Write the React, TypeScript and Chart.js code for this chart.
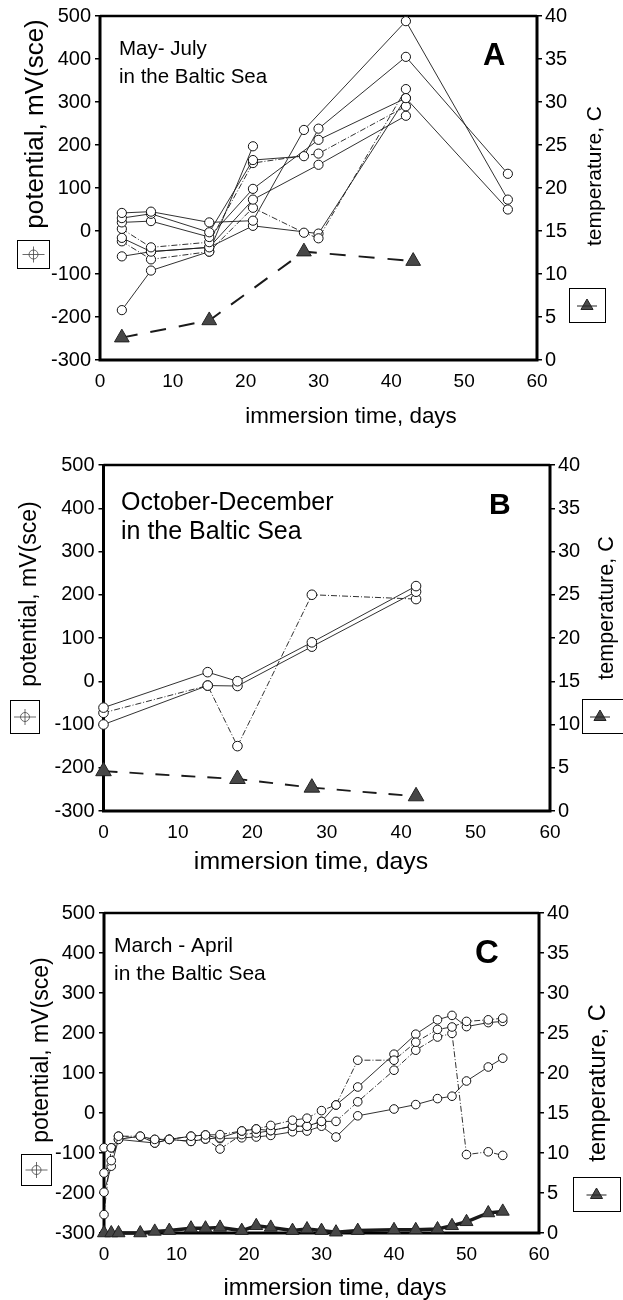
import React, { useEffect, useRef } from "react";
import { Chart, registerables } from "chart.js";
Chart.register(...registerables);

type P = [number, number];

// ---------- Panel A: May-July ----------
const A_S1: P[] = [[3, 42], [7, 45], [15, 20], [21, 24], [28, 235], [42, 488], [56, 73]];
const A_S2: P[] = [[3, 30], [7, 40], [15, -3], [21, 165], [28, 174], [30, 238], [42, 405], [56, 133]];
const A_S3: P[] = [[3, 20], [7, 23], [15, -14], [21, 98], [30, 212], [42, 309], [56, 50]];
const A_S4: P[] = [[3, 5], [7, -38], [15, -26], [21, 158], [30, 180], [42, 290]];
const A_S5: P[] = [[3, -16], [7, -48], [15, -38], [21, 73], [30, 154], [42, 268]];
const A_S6: P[] = [[3, -24], [7, -66], [15, -48], [21, 54], [28, -4], [30, -17], [42, 330]];
const A_S7: P[] = [[3, -59], [7, -48], [15, -38], [21, 12], [30, -6], [42, 309]];
const A_S8: P[] = [[3, -184], [7, -92], [15, -48], [21, 197]];
const A_TEMP: P[] = [[3, 2.6], [15, 4.6], [28, 12.6], [43, 11.5]];

// ---------- Panel B: October-December ----------
const B_S1: P[] = [[0, -61], [14, 21], [18, 0], [28, 90], [42, 220]];
const B_S2: P[] = [[0, -100], [14, -10], [18, -11], [28, 80], [42, 207]];
const B_S3: P[] = [[0, -73], [14, -10], [18, -150], [28, 200], [42, 190]];
const B_TEMP: P[] = [[0, 4.6], [18, 3.7], [28, 2.7], [42, 1.7]];

// ---------- Panel C: March-April ----------
const C_S1: P[] = [[0, -150], [1, -119], [2, -58], [5, -58], [7, -66], [9, -66], [12, -58], [14, -55], [16, -54], [19, -45], [21, -40], [23, -31], [26, -18], [28, -13], [30, 6], [32, 20], [35, 132], [40, 132], [43, 177], [46, 209], [48, 215], [50, 229], [53, 233], [55, 237]];
const C_S2: P[] = [[0, -198], [1, -133], [2, -66], [5, -58], [7, -75], [9, -66], [12, -71], [14, -65], [16, -62], [19, -45], [21, -40], [23, -44], [26, -33], [28, -33], [30, -21], [32, 20], [35, 65], [40, 147], [43, 197], [46, 233], [48, 244], [50, 216], [53, 226], [55, 229]];
const C_S3: P[] = [[0, -254], [1, -87], [2, -58], [7, -66], [9, -66], [12, -71], [14, -65], [16, -90], [19, -54], [21, -50], [23, -44], [26, -33], [28, -33], [30, -21], [32, -21], [35, 28], [40, 107], [43, 157], [46, 190], [48, 199], [50, -104], [53, -97], [55, -106]];
const C_S4: P[] = [[0, -87], [1, -87], [2, -66], [7, -75], [9, -66], [12, -58], [14, -55], [16, -64], [19, -62], [21, -60], [23, -56], [26, -47], [28, -45], [30, -33], [32, -60], [35, -7], [40, 10], [43, 21], [46, 36], [48, 42], [50, 80], [53, 115], [55, 137]];
const C_TEMP: P[] = [[0, 0], [1, 0], [2, 0], [5, 0], [7, 0.2], [9, 0.3], [12, 0.6], [14, 0.6], [16, 0.7], [19, 0.3], [21, 0.9], [23, 0.7], [26, 0.3], [28, 0.5], [30, 0.3], [32, 0.1], [35, 0.3], [40, 0.4], [43, 0.4], [46, 0.5], [48, 0.9], [50, 1.4], [53, 2.5], [55, 2.7]];

// ---------- shared axis settings ----------
const X_MIN = 0, X_MAX = 60, X_STEP = 10;
const Y_MIN = -300, Y_MAX = 500, Y_STEP = 100;
const T_MIN = 0, T_MAX = 40, T_STEP = 5;
const X_TITLE = "immersion time, days";
const Y_TITLE = "potential, mV(sce)";
const T_TITLE = "temperature, C";

const FONT = '"Liberation Sans", Arial, Helvetica, sans-serif';
const W = 623;

const PANELS = [
  {
    top: 0, height: 440,
    area: { left: 100, right: 537, top: 15, bottom: 360 },
    series: [A_S1, A_S2, A_S3, A_S4, A_S5, A_S6, A_S7, A_S8],
    dashes: [[], [], [], [6, 2, 1, 2], [], [6, 2, 1, 2], [], []],
    temp: A_TEMP, tempDash: [16, 13], tempWidth: 2, triR: 8.5, circR: 4.6,
    lines: [{ t: "May- July", x: 119, y: 55, s: 20.5 }, { t: "in the Baltic Sea", x: 119, y: 83, s: 20.5 }],
    letter: { t: "A", x: 483, y: 65, s: 31 },
    pot: { cx: 36, cy: 124, s: 26 }, tmp: { cx: 595, cy: 176, s: 21 }, xt: { cx: 351, cy: 417, s: 22.4 },
    lbox: { x: 17, y: 240, w: 32, h: 28 }, rbox: { x: 569, y: 288, w: 36, h: 34 },
  },
  {
    top: 440, height: 440,
    area: { left: 103.5, right: 550, top: 465, bottom: 811 },
    series: [B_S1, B_S2, B_S3],
    dashes: [[], [], [6, 2, 1, 2]],
    temp: B_TEMP, tempDash: [14, 12], tempWidth: 1.8, triR: 9, circR: 4.8,
    lines: [{ t: "October-December", x: 121, y: 510, s: 25 }, { t: "in the Baltic Sea", x: 121, y: 539, s: 25 }],
    letter: { t: "B", x: 489, y: 514, s: 30 },
    pot: { cx: 30, cy: 594, s: 23 }, tmp: { cx: 607, cy: 608, s: 21.5 }, xt: { cx: 311, cy: 862, s: 24.8 },
    lbox: { x: 10, y: 700, w: 29, h: 33 }, rbox: { x: 582, y: 699, w: 45, h: 34 },
  },
  {
    top: 880, height: 420,
    area: { left: 104, right: 539, top: 913, bottom: 1233 },
    series: [C_S1, C_S2, C_S3, C_S4],
    dashes: [[6, 2, 1, 2], [], [6, 2, 1, 2], []],
    temp: C_TEMP, tempDash: [], tempWidth: 3.5, triR: 7.5, circR: 4.3,
    lines: [{ t: "March - April", x: 114, y: 952, s: 21 }, { t: "in the Baltic Sea", x: 114, y: 980, s: 21 }],
    letter: { t: "C", x: 475, y: 963, s: 33 },
    pot: { cx: 42, cy: 1050, s: 23 }, tmp: { cx: 598, cy: 1083, s: 23.6 }, xt: { cx: 335, cy: 1288, s: 23.6 },
    lbox: { x: 21, y: 1154, w: 30, h: 31 }, rbox: { x: 573, y: 1177, w: 47, h: 34 },
  },
];

function decorPlugin(p: any, idx: number) {
  const off = p.top;
  return {
    id: "decor",
    beforeDatasetsDraw(chart: any) {
      const { ctx, chartArea: a } = chart;
      ctx.save();
      ctx.strokeStyle = "#000";
      ctx.lineWidth = 3;
      ctx.beginPath();
      ctx.moveTo(a.left, a.top);
      ctx.lineTo(a.left, a.bottom);
      ctx.lineTo(a.right, a.bottom);
      ctx.lineTo(a.right, a.top);
      ctx.stroke();
      ctx.lineWidth = 2.5;
      ctx.beginPath();
      ctx.moveTo(a.left, a.top);
      ctx.lineTo(a.right, a.top);
      ctx.stroke();
      ctx.restore();
    },
    afterDraw(chart: any) {
      const ctx = chart.ctx as CanvasRenderingContext2D;
      ctx.save();
      ctx.fillStyle = "#000";
      ctx.strokeStyle = "#000";
      ctx.textAlign = "left";
      ctx.textBaseline = "alphabetic";
      for (const l of p.lines) {
        ctx.font = `${l.s}px ${FONT}`;
        ctx.fillText(l.t, l.x, l.y - off);
      }
      ctx.font = `bold ${p.letter.s}px ${FONT}`;
      ctx.fillText(p.letter.t, p.letter.x, p.letter.y - off);
      ctx.textAlign = "center";
      ctx.textBaseline = "middle";
      ctx.font = `${p.xt.s}px ${FONT}`;
      ctx.fillText(X_TITLE, p.xt.cx, p.xt.cy - off);
      const rot = (t: string, cx: number, cy: number, s: number) => {
        ctx.save();
        ctx.translate(cx, cy - off);
        ctx.rotate(-Math.PI / 2);
        ctx.font = `${s}px ${FONT}`;
        ctx.textAlign = "center";
        ctx.textBaseline = "middle";
        ctx.fillText(t, 0, 0);
        ctx.restore();
      };
      rot(Y_TITLE, p.pot.cx, p.pot.cy, p.pot.s);
      rot(T_TITLE, p.tmp.cx, p.tmp.cy, p.tmp.s);
      // left legend box
      const lb = p.lbox;
      ctx.lineWidth = 1;
      ctx.strokeRect(lb.x + 0.5, lb.y - off + 0.5, lb.w, lb.h);
      const lcx = lb.x + lb.w / 2 + 0.5, lcy = lb.y + lb.h / 2 - off + 0.5;
      ctx.strokeStyle = "#444";
      ctx.lineWidth = 0.8;
      ctx.beginPath();
      ctx.moveTo(lcx - 11, lcy);
      ctx.lineTo(lcx + 11, lcy);
      ctx.moveTo(lcx, lcy - 8);
      ctx.lineTo(lcx, lcy + 8);
      ctx.stroke();
      ctx.beginPath();
      ctx.arc(lcx, lcy, 4.5, 0, Math.PI * 2);
      ctx.stroke();
      // right legend box
      const rb = p.rbox;
      ctx.strokeStyle = "#000";
      ctx.lineWidth = 1;
      ctx.strokeRect(rb.x + 0.5, rb.y - off + 0.5, rb.w, rb.h);
      const rcx = rb.x + (idx === 1 ? 18 : rb.w / 2), rcy = rb.y + rb.h / 2 - off + 1;
      const r = 7;
      ctx.fillStyle = "#4a4a4a";
      ctx.strokeStyle = "#222";
      ctx.beginPath();
      ctx.moveTo(rcx, rcy - r);
      ctx.lineTo(rcx + r * 0.866, rcy + r / 2);
      ctx.lineTo(rcx - r * 0.866, rcy + r / 2);
      ctx.closePath();
      ctx.fill();
      ctx.stroke();
      ctx.beginPath();
      ctx.moveTo(rcx - 10, rcy);
      ctx.lineTo(rcx + 10, rcy);
      ctx.stroke();
      ctx.restore();
    },
  };
}

function buildConfig(p: any, idx: number): any {
  const datasets: any[] = p.series.map((s: P[], i: number) => ({
    type: "line",
    data: s.map(([x, y]) => ({ x, y })),
    yAxisID: "y",
    borderColor: "#1a1a1a",
    borderWidth: 0.9,
    borderDash: p.dashes[i] || [],
    pointStyle: "circle",
    pointRadius: p.circR,
    pointBackgroundColor: "#fff",
    pointBorderColor: "#111",
    pointBorderWidth: 1,
    tension: 0,
    clip: false,
    order: 1,
  }));
  datasets.push({
    type: "line",
    data: p.temp.map(([x, y]: P) => ({ x, y })),
    yAxisID: "y1",
    borderColor: "#1a1a1a",
    borderWidth: p.tempWidth,
    borderDash: p.tempDash,
    pointStyle: "triangle",
    pointRadius: p.triR,
    pointBackgroundColor: "#474747",
    pointBorderColor: "#222",
    pointBorderWidth: 1,
    tension: 0,
    clip: false,
    order: 0,
  });
  const xFont = { family: FONT, size: 19 };
  const yFont = { family: FONT, size: 20 };
  const a = p.area;
  return {
    type: "line",
    data: { datasets },
    options: {
      responsive: false,
      animation: false,
      devicePixelRatio: 1,
      layout: { padding: { top: a.top - p.top, left: 0, right: 0, bottom: 0 } },
      plugins: { legend: { display: false }, tooltip: { enabled: false } },
      scales: {
        x: {
          type: "linear", min: X_MIN, max: X_MAX,
          ticks: { stepSize: X_STEP, color: "#000", font: xFont, padding: 10.6, maxRotation: 0 },
          grid: { display: false, drawTicks: false },
          border: { display: false },
          afterFit: (s: any) => { s.height = p.top + p.height - a.bottom; },
        },
        y: {
          type: "linear", position: "left", min: Y_MIN, max: Y_MAX,
          ticks: { stepSize: Y_STEP, color: "#000", font: yFont, padding: 4 },
          grid: { display: true, drawOnChartArea: false, drawTicks: true, tickLength: 5, color: "#000", lineWidth: 1.5 },
          border: { display: false },
          afterFit: (s: any) => { s.width = a.left; },
        },
        y1: {
          type: "linear", position: "right", min: T_MIN, max: T_MAX,
          ticks: { stepSize: T_STEP, color: "#000", font: yFont, padding: 3 },
          grid: { display: true, drawOnChartArea: false, drawTicks: true, tickLength: 5, color: "#000", lineWidth: 1.5 },
          border: { display: false },
          afterFit: (s: any) => { s.width = W - a.right; },
        },
      },
    },
    plugins: [decorPlugin(p, idx)],
  };
}

function Panel({ p, idx }: { p: any; idx: number }) {
  const ref = useRef<HTMLCanvasElement>(null);
  useEffect(() => {
    const chart = new Chart(ref.current as HTMLCanvasElement, buildConfig(p, idx));
    return () => chart.destroy();
  }, [p, idx]);
  return (
    <canvas
      ref={ref}
      width={W}
      height={p.height}
      style={{ position: "absolute", left: 0, top: p.top, width: W, height: p.height }}
    />
  );
}

export default function App() {
  return (
    <div style={{ position: "absolute", left: 0, top: 0, width: W, height: 1300, background: "#fff" }}>
      {PANELS.map((p, i) => (
        <Panel key={i} p={p} idx={i} />
      ))}
    </div>
  );
}
